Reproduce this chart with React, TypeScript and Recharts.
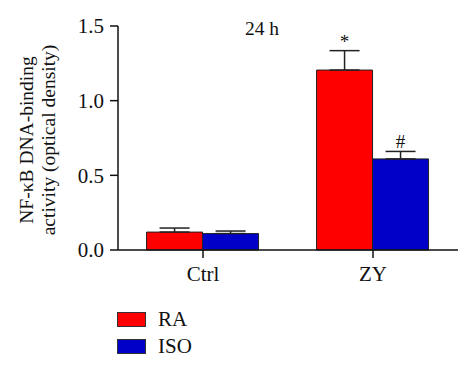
import React from "react";
import {
  BarChart,
  Bar,
  XAxis,
  YAxis,
  ErrorBar,
  LabelList,
} from "recharts";

const groups = ["Ctrl", "ZY"];
const raValues = [0.12, 1.205];
const raErrors = [0.027, 0.13];
const isoValues = [0.11, 0.61];
const isoErrors = [0.017, 0.05];
const raMarks = ["", "*"];
const isoMarks = ["", "#"];
const yTicks = [0, 0.5, 1.0, 1.5];

const RED = "#ff0000";
const BLUE = "#0000c8";
const FONT = "'Liberation Serif', 'DejaVu Serif', serif";

const data = groups.map((g, i) => ({
  name: g,
  ra: raValues[i],
  raErr: [0, raErrors[i]],
  raMark: raMarks[i],
  iso: isoValues[i],
  isoErr: [0, isoErrors[i]],
  isoMark: isoMarks[i],
}));

// puts the significance mark just above the error bar cap
const markLabel = (errors: number[], values: number[]) => (props: any) => {
  const { x, y, width, height, value, index } = props;
  if (!value) return null;
  const top = y - (height * errors[index]) / values[index];
  return (
    <text
      x={x + width / 2}
      y={top - 3}
      textAnchor="middle"
      fontFamily={FONT}
      fontSize={19}
      fill="#111"
    >
      {value}
    </text>
  );
};

const YLabel = (props: any) => {
  const { viewBox } = props;
  const cx = 39;
  const cy = viewBox.y + viewBox.height / 2 + 2;
  return (
    <text
      transform={`rotate(-90, ${cx}, ${cy})`}
      x={cx}
      y={cy}
      textAnchor="middle"
      fontFamily={FONT}
      fontSize={19.5}
      fill="#111"
    >
      <tspan x={cx} dy={-6}>NF-κB DNA-binding</tspan>
      <tspan x={cx} dy={22}>activity (optical density)</tspan>
    </text>
  );
};

const legendItems = [
  { name: "RA", color: RED },
  { name: "ISO", color: BLUE },
];

export default function App() {
  return (
    <div
      style={{
        position: "absolute",
        left: 0,
        top: 0,
        width: 474,
        height: 380,
        background: "#fff",
      }}
    >
      <BarChart
        width={474}
        height={380}
        data={data}
        margin={{ top: 26, right: 16, bottom: 90, left: 0 }}
        barCategoryGap="16.8%"
        barGap={0}
      >
        <XAxis
          dataKey="name"
          tick={{ fontSize: 21, fill: "#111", fontFamily: FONT }}
          axisLine={{ stroke: "#111", strokeWidth: 1.5 }}
          tickLine={{ stroke: "#111", strokeWidth: 1.5 }}
          tickSize={8}
          tickMargin={8}
          height={40}
        />
        <YAxis
          domain={[0, 1.5]}
          ticks={yTicks}
          tickFormatter={(v: number) => v.toFixed(1)}
          tick={{ fontSize: 21, fill: "#111", fontFamily: FONT }}
          axisLine={{ stroke: "#111", strokeWidth: 1.5 }}
          tickLine={{ stroke: "#111", strokeWidth: 1.5 }}
          tickSize={8}
          tickMargin={6}
          width={118}
          label={<YLabel />}
        />
        <text
          x={262}
          y={35}
          textAnchor="middle"
          fontFamily={FONT}
          fontSize={19.5}
          fill="#111"
        >
          24 h
        </text>
        <Bar
          dataKey="ra"
          fill={RED}
          stroke="#222"
          strokeWidth={1}
          isAnimationActive={false}
        >
          <ErrorBar
            dataKey="raErr"
            width={15}
            stroke="#222"
            strokeWidth={1.5}
            direction="y"
          />
          <LabelList dataKey="raMark" content={markLabel(raErrors, raValues)} />
        </Bar>
        <Bar
          dataKey="iso"
          fill={BLUE}
          stroke="#222"
          strokeWidth={1}
          isAnimationActive={false}
        >
          <ErrorBar
            dataKey="isoErr"
            width={15}
            stroke="#222"
            strokeWidth={1.5}
            direction="y"
          />
          <LabelList
            dataKey="isoMark"
            content={markLabel(isoErrors, isoValues)}
          />
        </Bar>
      </BarChart>
      <div
        style={{
          position: "absolute",
          left: 117,
          top: 306,
          fontFamily: FONT,
          fontSize: 21,
          color: "#111",
        }}
      >
        {legendItems.map((item) => (
          <div
            key={item.name}
            style={{ display: "flex", alignItems: "center", height: 27 }}
          >
            <div
              style={{
                width: 29,
                height: 15,
                background: item.color,
                border: "1px solid #333",
                boxSizing: "border-box",
                marginRight: 12,
              }}
            />
            <span>{item.name}</span>
          </div>
        ))}
      </div>
    </div>
  );
}
